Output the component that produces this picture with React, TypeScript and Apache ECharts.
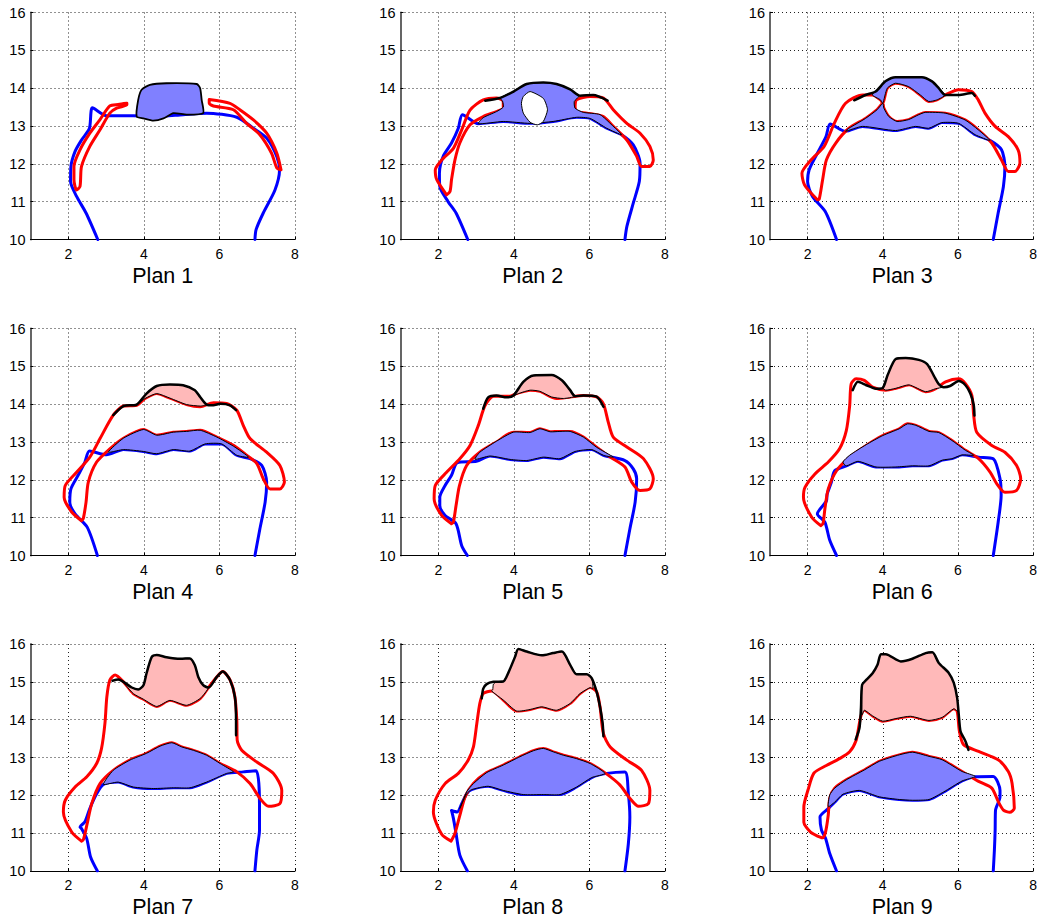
import React, { useEffect, useRef } from "react";
import * as echarts from "echarts";

type P = [number, number][];

// ---------- Plan 1 ----------
const blue1: P = [[2.78,10],[2.47,10.7],[2.22,11.14],[2.06,11.53],[2.07,11.93],[2.18,12.33],[2.35,12.63],[2.56,12.94],[2.64,13.48],[3.01,13.27],[3.72,13.27],[4.34,13.25],[5.04,13.3],[5.66,13.34],[6.46,13.23],[6.9,12.94],[7.25,12.68],[7.52,12.19],[7.59,11.83],[7.47,11.31],[7.16,10.7],[6.97,10.26],[6.94,10]];
const red1a: P = [[3.55,13.6],[3.32,13.57],[3.1,13.53],[2.84,13.17],[2.57,12.81],[2.31,12.37],[2.15,11.93],[2.15,11.58],[2.22,11.31],[2.31,11.4],[2.35,11.93],[2.57,12.46],[2.84,12.9],[3.1,13.34],[3.28,13.47],[3.55,13.56],[3.55,13.6]];
const red1b: P = [[5.73,13.7],[6.28,13.6],[6.54,13.43],[6.9,13.16],[7.25,12.81],[7.52,12.28],[7.63,11.84],[7.52,11.89],[7.38,12.28],[7.07,12.77],[6.72,13.07],[6.37,13.43],[5.84,13.53],[5.73,13.6],[5.73,13.7]];
const fillB1: P = [[3.81,13.25],[3.85,13.69],[3.94,13.96],[4.16,14.09],[4.6,14.13],[5.4,14.11],[5.49,14.0],[5.53,13.69],[5.57,13.34],[5.13,13.3],[4.78,13.34],[4.52,13.2],[4.25,13.14],[3.99,13.2]];

// ---------- Plan 2 ----------
const blue2: P = [[2.78,10],[2.47,10.7],[2.26,11.0],[2.04,11.4],[2.03,11.75],[2.13,12.2],[2.35,12.55],[2.53,12.94],[2.64,13.3],[3.06,13.06],[3.72,13.12],[4.43,13.07],[5.04,13.12],[5.66,13.23],[6.02,13.2],[6.46,12.94],[6.85,12.77],[7.16,12.5],[7.34,12.02],[7.32,11.53],[7.16,10.96],[6.99,10.34],[6.94,10]];
const red2a: P = [[2.22,11.18],[1.96,11.58],[1.92,11.84],[2.09,12.1],[2.4,12.41],[2.62,12.9],[2.84,13.42],[3.19,13.69],[3.54,13.74],[3.72,13.65],[3.72,13.47],[3.54,13.38],[3.19,13.25],[2.84,13.03],[2.57,12.55],[2.44,12.1],[2.35,11.58],[2.31,11.27],[2.22,11.18]];
const red2b: P = [[5.62,13.5],[5.66,13.69],[6.02,13.78],[6.37,13.74],[6.63,13.43],[6.99,13.07],[7.34,12.81],[7.6,12.46],[7.69,12.1],[7.6,11.93],[7.38,11.93],[7.25,12.2],[6.99,12.63],[6.63,12.99],[6.37,13.25],[5.93,13.34],[5.66,13.38],[5.62,13.5]];
const fillB2: P = [[3.06,13.06],[3.19,13.22],[3.54,13.38],[3.72,13.5],[3.7,13.66],[3.63,13.74],[3.99,13.91],[4.34,14.11],[4.78,14.15],[5.13,14.11],[5.49,13.97],[5.71,13.78],[5.6,13.65],[5.62,13.47],[5.84,13.36],[6.28,13.3],[6.6,13.02],[6.85,12.77],[6.46,12.94],[6.02,13.2],[5.66,13.23],[5.04,13.12],[4.43,13.07],[3.72,13.12]];
const hole2: P = [[4.25,13.78],[4.43,13.91],[4.78,13.73],[4.89,13.43],[4.78,13.12],[4.62,13.03],[4.43,13.1],[4.25,13.34],[4.2,13.6]];
const black2: P = [[3.24,13.67],[3.63,13.74],[3.99,13.91],[4.34,14.11],[4.78,14.15],[5.13,14.11],[5.49,13.97],[5.75,13.8],[6.1,13.82],[6.48,13.67]];

// ---------- Plan 3 ----------
const blue3: P = [[2.77,10],[2.47,10.74],[2.13,11.14],[2.0,11.53],[2.04,11.84],[2.26,12.28],[2.49,12.72],[2.6,13.05],[3.01,12.86],[3.46,12.99],[4.34,12.88],[4.87,12.99],[5.22,12.94],[5.57,13.09],[6.02,13.07],[6.46,12.77],[6.85,12.62],[7.16,12.37],[7.25,11.93],[7.21,11.4],[7.07,10.7],[6.94,10]];
const red3: P = [[2.26,11.05],[1.92,11.44],[1.85,11.75],[2.09,12.1],[2.44,12.46],[2.71,13.07],[3.01,13.6],[3.46,13.82],[3.72,13.82],[3.94,13.69],[4.0,13.6],[4.12,14.0],[4.34,14.13],[4.69,14.04],[5.0,13.82],[5.22,13.65],[5.44,13.69],[5.66,13.82],[6.02,13.96],[6.37,13.91],[6.54,13.69],[6.72,13.34],[6.99,12.99],[7.34,12.72],[7.6,12.37],[7.65,12.02],[7.52,11.8],[7.34,11.8],[7.16,12.1],[6.9,12.55],[6.54,12.9],[6.19,13.16],[5.66,13.34],[5.13,13.36],[4.96,13.3],[4.69,13.17],[4.38,13.12],[4.16,13.25],[4.03,13.47],[4.0,13.6],[3.85,13.43],[3.54,13.2],[3.1,12.94],[2.75,12.55],[2.5,12.1],[2.4,11.58],[2.31,11.07],[2.26,11.05]];
const fillB3a: P = [[3.72,13.82],[3.81,13.91],[4.07,14.18],[4.34,14.29],[5.04,14.29],[5.31,14.18],[5.49,14.0],[5.66,13.82],[5.44,13.69],[5.22,13.65],[5.0,13.82],[4.69,14.04],[4.34,14.13],[4.12,14.0],[4.0,13.6],[3.94,13.69]];
const fillB3b: P = [[3.01,12.86],[3.1,12.94],[3.54,13.2],[3.85,13.43],[4.0,13.6],[4.03,13.47],[4.16,13.25],[4.38,13.12],[4.69,13.17],[4.96,13.3],[5.13,13.36],[5.66,13.34],[6.19,13.16],[6.54,12.9],[6.85,12.62],[6.46,12.77],[6.02,13.07],[5.57,13.09],[5.22,12.94],[4.87,12.99],[4.34,12.88],[3.46,12.99]];
const black3: P = [[3.24,13.68],[3.54,13.82],[3.81,13.91],[4.07,14.18],[4.34,14.29],[5.04,14.29],[5.31,14.18],[5.49,14.0],[5.66,13.82],[6.02,13.82],[6.37,13.87],[6.45,13.8]];

// ---------- Plan 4 ----------
const blue4: P = [[2.77,10],[2.5,10.75],[2.18,11.1],[2.04,11.41],[2.07,11.76],[2.26,12.12],[2.44,12.47],[2.56,12.76],[3.01,12.66],[3.46,12.8],[3.99,12.75],[4.34,12.69],[4.78,12.8],[5.22,12.76],[5.62,12.95],[6.06,12.95],[6.46,12.65],[6.81,12.56],[7.12,12.38],[7.25,11.94],[7.21,11.41],[7.07,10.7],[6.94,10]];
const red4: P = [[2.35,10.92],[2.09,11.15],[1.89,11.54],[1.92,11.85],[2.22,12.2],[2.57,12.6],[2.84,13.09],[3.19,13.71],[3.46,13.95],[3.81,13.97],[4.03,14.15],[4.34,14.28],[4.69,14.16],[5.13,13.99],[5.49,13.93],[5.84,14.04],[6.19,14.02],[6.46,13.84],[6.63,13.44],[6.81,13.09],[7.25,12.73],[7.6,12.38],[7.72,11.94],[7.6,11.76],[7.34,11.76],[7.16,12.03],[6.99,12.43],[6.72,12.65],[6.37,12.91],[5.93,13.13],[5.49,13.31],[5.13,13.28],[4.78,13.26],[4.34,13.18],[3.99,13.33],[3.46,13.1],[3.1,12.82],[2.75,12.47],[2.53,11.94],[2.47,11.41],[2.4,10.99],[2.35,10.92]];
const fillB4: P = [[3.06,12.73],[3.46,13.1],[3.99,13.33],[4.34,13.18],[4.78,13.26],[5.13,13.28],[5.49,13.31],[5.93,13.13],[6.37,12.89],[6.77,12.6],[6.46,12.65],[6.06,12.95],[5.62,12.95],[5.22,12.76],[4.78,12.8],[4.34,12.69],[3.99,12.75],[3.46,12.8]];
const pink4: P = [[3.85,14.02],[4.07,14.28],[4.34,14.48],[4.69,14.52],[5.04,14.5],[5.35,14.37],[5.49,14.19],[5.65,13.99],[5.49,13.95],[5.13,13.99],[4.69,14.16],[4.34,14.28],[4.03,14.15]];
const black4: P = [[3.19,13.71],[3.46,13.95],[3.81,13.99],[4.07,14.28],[4.34,14.48],[4.69,14.52],[5.04,14.5],[5.35,14.37],[5.49,14.19],[5.66,13.99],[5.84,13.97],[6.02,14.01],[6.28,13.97],[6.44,13.84]];

// ---------- Plan 5 ----------
const blue5: P = [[2.77,10],[2.62,10.26],[2.47,10.84],[2.18,11.06],[2.04,11.32],[2.04,11.54],[2.18,11.85],[2.35,12.12],[2.5,12.45],[3.01,12.49],[3.37,12.63],[3.9,12.54],[4.34,12.51],[4.78,12.6],[5.22,12.56],[5.62,12.75],[6.06,12.8],[6.37,12.65],[6.94,12.51],[7.16,12.29],[7.25,12.03],[7.21,11.41],[7.07,10.7],[6.94,10]];
const red5: P = [[2.35,10.84],[2.09,11.06],[1.89,11.5],[1.92,11.85],[2.22,12.2],[2.57,12.56],[2.84,12.91],[3.06,13.44],[3.24,13.97],[3.46,14.21],[3.9,14.21],[4.07,14.28],[4.43,14.37],[4.69,14.34],[5.13,14.15],[5.49,14.19],[5.84,14.23],[6.19,14.19],[6.37,14.01],[6.5,13.52],[6.63,13.13],[6.99,12.87],[7.43,12.56],[7.69,12.03],[7.6,11.76],[7.34,11.72],[7.12,11.94],[6.94,12.34],[6.55,12.6],[6.19,12.86],[5.84,13.13],[5.49,13.28],[5.22,13.28],[4.96,13.27],[4.69,13.35],[4.43,13.25],[3.99,13.26],[3.54,13.0],[3.1,12.73],[2.75,12.38],[2.56,11.85],[2.47,11.32],[2.4,10.88],[2.35,10.84]];
const fillB5: P = [[2.97,12.54],[3.1,12.73],[3.54,13.02],[3.99,13.26],[4.43,13.25],[4.69,13.35],[4.96,13.27],[5.22,13.28],[5.49,13.28],[5.84,13.13],[6.19,12.86],[6.63,12.6],[6.37,12.65],[6.06,12.8],[5.62,12.75],[5.22,12.56],[4.78,12.6],[4.34,12.51],[3.9,12.54],[3.37,12.63]];
const pink5: P = [[3.99,14.23],[4.25,14.59],[4.52,14.76],[5.0,14.77],[5.27,14.63],[5.49,14.37],[5.62,14.21],[5.31,14.15],[5.0,14.19],[4.69,14.34],[4.43,14.37],[4.12,14.28]];
const black5: P = [[3.19,13.88],[3.32,14.18],[3.54,14.23],[3.81,14.18],[3.99,14.23],[4.25,14.59],[4.52,14.76],[5.0,14.77],[5.27,14.63],[5.49,14.37],[5.62,14.21],[5.84,14.23],[6.19,14.2],[6.37,13.93]];

// ---------- Plan 6 ----------
const blue6: P = [[2.77,10],[2.59,10.4],[2.46,10.88],[2.26,11.1],[2.5,11.44],[2.52,11.62],[2.63,11.93],[2.72,12.24],[3.03,12.37],[3.34,12.49],[3.82,12.34],[4.35,12.34],[4.79,12.37],[5.23,12.37],[5.58,12.52],[5.84,12.56],[6.11,12.66],[6.55,12.6],[6.94,12.56],[7.12,12.03],[7.15,11.59],[7.07,10.88],[6.94,10]];
const red6: P = [[2.35,10.79],[2.11,11.01],[1.89,11.54],[1.93,11.8],[2.19,12.15],[2.55,12.47],[2.85,12.82],[3.03,13.3],[3.12,13.96],[3.16,14.54],[3.29,14.67],[3.51,14.63],[3.73,14.45],[4.08,14.37],[4.35,14.42],[4.7,14.51],[5.14,14.33],[5.41,14.41],[5.67,14.59],[6.02,14.67],[6.2,14.54],[6.37,14.23],[6.42,13.7],[6.5,13.26],[6.9,12.91],[7.25,12.73],[7.56,12.38],[7.67,12.03],[7.56,11.72],[7.25,11.67],[7.03,11.9],[6.86,12.2],[6.55,12.56],[6.2,12.78],[5.84,13.04],[5.49,13.25],[5.23,13.28],[4.88,13.44],[4.66,13.48],[4.44,13.35],[4.0,13.17],[3.56,12.91],[3.12,12.6],[2.77,12.24],[2.55,11.76],[2.46,11.23],[2.41,10.84],[2.35,10.79]];
const fillB6: P = [[2.94,12.47],[3.12,12.65],[3.56,12.93],[4.0,13.17],[4.44,13.35],[4.66,13.48],[4.88,13.44],[5.23,13.28],[5.49,13.25],[5.84,13.04],[6.2,12.78],[6.42,12.65],[6.11,12.66],[5.84,12.56],[5.58,12.52],[5.23,12.37],[4.79,12.37],[4.35,12.34],[3.82,12.34],[3.34,12.49],[3.03,12.37]];
const pink6: P = [[4.0,14.43],[4.13,14.77],[4.35,15.2],[4.61,15.22],[4.96,15.17],[5.18,15.06],[5.36,14.75],[5.49,14.53],[5.58,14.45],[5.41,14.41],[5.14,14.33],[4.7,14.51],[4.35,14.42],[4.08,14.37]];
const black6: P = [[3.2,14.37],[3.34,14.59],[3.56,14.5],[3.82,14.41],[4.0,14.43],[4.13,14.77],[4.35,15.2],[4.61,15.22],[4.96,15.17],[5.18,15.06],[5.36,14.75],[5.49,14.53],[5.62,14.45],[5.79,14.48],[6.02,14.61],[6.2,14.5],[6.33,14.28],[6.42,13.98],[6.44,13.7]];

// ---------- Plan 7 ----------
const blue7: P = [[2.77,10],[2.59,10.37],[2.49,10.85],[2.35,11.12],[2.31,11.16],[2.44,11.3],[2.57,11.65],[2.75,12.04],[2.93,12.29],[3.32,12.35],[3.72,12.22],[4.25,12.18],[4.78,12.2],[5.22,12.2],[5.66,12.35],[6.19,12.58],[6.63,12.62],[6.97,12.65],[7.06,11.78],[7.06,11.07],[6.99,10.55],[6.94,10]];
const red7: P = [[2.35,10.79],[2.09,11.03],[1.87,11.56],[1.92,11.87],[2.18,12.22],[2.49,12.49],[2.75,12.84],[2.88,13.24],[2.97,13.9],[3.02,14.6],[3.1,15.05],[3.24,15.18],[3.46,15.0],[3.72,14.69],[3.99,14.54],[4.34,14.35],[4.69,14.51],[5.13,14.38],[5.49,14.56],[5.71,14.85],[5.93,15.13],[6.09,15.27],[6.28,15.05],[6.41,14.6],[6.46,13.99],[6.47,13.46],[6.59,13.19],[6.99,12.88],[7.43,12.58],[7.65,12.13],[7.6,11.78],[7.3,11.71],[7.08,11.91],[6.81,12.31],[6.46,12.62],[6.02,12.84],[5.66,13.06],[5.31,13.19],[5.0,13.28],[4.74,13.39],[4.43,13.3],[4.07,13.11],[3.63,12.93],[3.19,12.66],[2.84,12.31],[2.62,11.78],[2.5,11.25],[2.4,10.83],[2.35,10.79]];
const fillB7: P = [[2.93,12.29],[3.19,12.66],[3.63,12.93],[4.07,13.11],[4.43,13.3],[4.74,13.39],[5.0,13.28],[5.31,13.19],[5.66,13.06],[6.02,12.84],[6.37,12.62],[6.19,12.58],[5.66,12.35],[5.22,12.2],[4.78,12.2],[4.25,12.18],[3.72,12.22],[3.32,12.35]];
const pink7: P = [[3.46,15.0],[3.68,14.85],[3.85,14.8],[3.99,14.91],[4.07,15.22],[4.21,15.66],[4.34,15.71],[4.6,15.65],[4.96,15.61],[5.22,15.62],[5.35,15.44],[5.44,15.13],[5.57,14.91],[5.71,14.85],[5.49,14.56],[5.13,14.38],[4.69,14.51],[4.34,14.35],[3.99,14.54],[3.72,14.69]];
const black7: P = [[3.17,15.03],[3.32,15.06],[3.46,15.0],[3.68,14.85],[3.85,14.8],[3.99,14.91],[4.07,15.22],[4.21,15.66],[4.34,15.71],[4.6,15.65],[4.96,15.61],[5.22,15.62],[5.35,15.44],[5.44,15.13],[5.57,14.91],[5.71,14.85],[5.93,15.13],[6.09,15.27],[6.28,15.05],[6.41,14.6],[6.44,13.99],[6.44,13.59]];

// ---------- Plan 8 ----------
const blue8: P = [[2.77,10],[2.57,10.42],[2.47,10.99],[2.4,11.39],[2.35,11.6],[2.5,11.56],[2.62,11.78],[2.75,12.04],[2.88,12.15],[3.32,12.24],[3.72,12.13],[4.25,12.02],[4.78,12.02],[5.22,12.02],[5.66,12.22],[6.06,12.47],[6.46,12.58],[6.94,12.62],[7.03,12.04],[7.07,11.43],[7.03,10.72],[6.94,10]];
const red8: P = [[2.34,10.79],[2.09,10.97],[1.87,11.56],[1.92,11.87],[2.18,12.31],[2.53,12.58],[2.79,12.93],[2.93,13.28],[3.02,13.9],[3.1,14.43],[3.19,14.69],[3.41,14.76],[3.72,14.52],[4.07,14.23],[4.43,14.27],[4.74,14.34],[5.13,14.25],[5.49,14.43],[5.75,14.69],[6.02,14.85],[6.19,14.74],[6.28,14.34],[6.37,13.63],[6.55,13.28],[6.99,12.93],[7.38,12.66],[7.6,12.13],[7.56,11.78],[7.3,11.71],[7.08,11.91],[6.81,12.27],[6.46,12.56],[6.02,12.84],[5.66,12.97],[5.31,13.06],[5.04,13.15],[4.78,13.24],[4.52,13.18],[4.16,13.02],[3.72,12.8],[3.28,12.6],[2.93,12.31],[2.71,11.96],[2.56,11.43],[2.44,10.99],[2.34,10.79]];
const fillB8: P = [[2.57,11.65],[2.75,12.09],[2.93,12.31],[3.28,12.6],[3.72,12.8],[4.16,13.02],[4.52,13.18],[4.78,13.24],[5.04,13.15],[5.31,13.06],[5.66,12.97],[6.02,12.84],[6.41,12.58],[6.06,12.47],[5.66,12.22],[5.22,12.02],[4.78,12.02],[4.25,12.02],[3.72,12.13],[3.32,12.24],[2.88,12.15],[2.75,12.04]];
const pink8: P = [[3.44,14.79],[3.46,14.94],[3.54,15.0],[3.72,15.01],[3.85,15.23],[4.03,15.66],[4.12,15.87],[4.34,15.8],[4.74,15.7],[5.04,15.76],[5.27,15.8],[5.49,15.45],[5.66,15.2],[5.93,15.2],[6.06,15.1],[6.09,14.82],[6.02,14.85],[5.75,14.69],[5.49,14.43],[5.13,14.25],[4.74,14.34],[4.43,14.27],[4.07,14.23],[3.72,14.52],[3.41,14.76]];
const black8: P = [[3.15,14.56],[3.19,14.82],[3.28,14.94],[3.46,15.0],[3.72,15.01],[3.85,15.23],[4.03,15.66],[4.12,15.87],[4.34,15.8],[4.74,15.7],[5.04,15.76],[5.27,15.8],[5.49,15.45],[5.66,15.2],[5.93,15.2],[6.06,15.1],[6.19,14.74],[6.28,14.34],[6.35,13.9],[6.37,13.56]];

// ---------- Plan 9 ----------
const blue9: P = [[2.77,10],[2.59,10.46],[2.48,10.86],[2.37,11.08],[2.33,11.43],[2.55,11.65],[2.72,11.82],[2.94,12.03],[3.38,12.13],[3.91,11.96],[4.44,11.89],[4.79,11.87],[5.23,11.89],[5.62,12.09],[6.11,12.38],[6.46,12.49],[6.94,12.5],[7.12,12.13],[7.12,11.96],[7.0,11.61],[6.99,11.08],[6.97,10.55],[6.94,10]];
const red9: P = [[2.37,10.88],[2.08,11.03],[1.9,11.29],[1.9,11.69],[2.02,12.17],[2.17,12.59],[2.5,12.79],[2.85,12.97],[3.12,13.15],[3.29,13.45],[3.36,13.8],[3.42,14.1],[3.51,14.25],[3.73,14.1],[4.0,13.96],[4.35,14.03],[4.74,14.09],[5.23,13.98],[5.58,14.06],[5.89,14.29],[5.98,14.22],[6.04,13.69],[6.15,13.34],[6.55,13.16],[7.07,12.94],[7.34,12.63],[7.44,12.32],[7.5,11.66],[7.38,11.55],[7.21,11.61],[7.07,11.84],[6.9,12.19],[6.55,12.37],[6.11,12.63],[5.58,12.94],[5.23,13.03],[4.79,13.14],[4.44,13.07],[3.91,12.9],[3.51,12.67],[3.03,12.41],[2.72,12.19],[2.59,11.93],[2.55,11.48],[2.48,11.04],[2.41,10.88],[2.37,10.88]];
const fillB9: P = [[2.55,11.7],[2.59,12.01],[2.72,12.19],[3.03,12.41],[3.51,12.67],[3.91,12.9],[4.44,13.07],[4.79,13.14],[5.23,13.03],[5.58,12.94],[6.11,12.63],[6.46,12.5],[6.11,12.38],[5.62,12.09],[5.23,11.89],[4.79,11.87],[4.44,11.89],[3.91,11.96],[3.38,12.13],[2.94,12.03],[2.72,11.82]];
const pink9: P = [[3.45,14.13],[3.45,14.92],[3.56,15.05],[3.73,15.23],[3.86,15.45],[3.95,15.73],[4.08,15.73],[4.48,15.54],[4.79,15.61],[5.14,15.76],[5.32,15.78],[5.49,15.5],[5.76,15.23],[5.89,14.97],[5.98,14.57],[6.0,14.22],[5.89,14.29],[5.58,14.06],[5.23,13.98],[4.74,14.09],[4.35,14.03],[4.0,13.96],[3.73,14.1],[3.51,14.25]];
const black9: P = [[3.28,13.48],[3.38,13.78],[3.42,14.3],[3.45,14.92],[3.56,15.05],[3.73,15.23],[3.86,15.45],[3.95,15.73],[4.08,15.73],[4.48,15.54],[4.79,15.61],[5.14,15.76],[5.32,15.78],[5.49,15.5],[5.76,15.23],[5.89,14.97],[5.98,14.57],[6.03,14.04],[6.07,13.69],[6.2,13.43],[6.28,13.2]];

// ---------- axes / titles ----------
const planTitles = ["Plan 1", "Plan 2", "Plan 3", "Plan 4", "Plan 5", "Plan 6", "Plan 7", "Plan 8", "Plan 9"];
const xTickValues = [2, 4, 6, 8];
const xRange = [1, 8];
const yRange = [10, 16];

interface Plan { blue: P; reds: P[]; blueFills: P[]; pinkFills: P[]; holes: P[]; black: P | null; }
const plans: Plan[] = [
  { blue: blue1, reds: [red1a, red1b], blueFills: [fillB1], pinkFills: [], holes: [], black: null },
  { blue: blue2, reds: [red2a, red2b], blueFills: [fillB2], pinkFills: [], holes: [hole2], black: black2 },
  { blue: blue3, reds: [red3], blueFills: [fillB3a, fillB3b], pinkFills: [], holes: [], black: black3 },
  { blue: blue4, reds: [red4], blueFills: [fillB4], pinkFills: [pink4], holes: [], black: black4 },
  { blue: blue5, reds: [red5], blueFills: [fillB5], pinkFills: [pink5], holes: [], black: black5 },
  { blue: blue6, reds: [red6], blueFills: [fillB6], pinkFills: [pink6], holes: [], black: black6 },
  { blue: blue7, reds: [red7], blueFills: [fillB7], pinkFills: [pink7], holes: [], black: black7 },
  { blue: blue8, reds: [red8], blueFills: [fillB8], pinkFills: [pink8], holes: [], black: black8 },
  { blue: blue9, reds: [red9], blueFills: [fillB9], pinkFills: [pink9], holes: [], black: black9 },
];

const COL_LEFT = [30.5, 400.5, 770];
const ROW_TOP = [12.5, 328.5, 644];
const GW = 264.5;
const GH = 227;
const FONT = "'Liberation Sans', Arial, Helvetica, sans-serif";

function lineSeries(i: number, pts: P, color: string, width: number, z: number) {
  return {
    type: "line", xAxisIndex: i, yAxisIndex: i, data: pts, symbol: "none", showSymbol: false,
    smooth: 0.25, silent: true, z, lineStyle: { color, width, cap: "round", join: "round" },
  };
}

function polySeries(i: number, pts: P, fill: string, lw: number, z: number) {
  return {
    type: "custom", xAxisIndex: i, yAxisIndex: i, z, silent: true,
    data: [pts[0]],
    renderItem: (_params: any, api: any) => ({
      type: "polygon",
      shape: { points: pts.map((p) => api.coord(p)), smooth: 0.2 },
      style: { fill, stroke: "#000", lineWidth: lw },
    }),
  };
}

export default function App() {
  const ref = useRef<HTMLDivElement>(null);
  useEffect(() => {
    if (!ref.current) return;
    const chart = echarts.init(ref.current, undefined, { renderer: "svg" });
    const grid: any[] = [];
    const xAxis: any[] = [];
    const yAxis: any[] = [];
    const series: any[] = [];
    const graphic: any[] = [];
    plans.forEach((pl, i) => {
      const c = i % 3;
      const r = Math.floor(i / 3);
      grid.push({ left: COL_LEFT[c], top: ROW_TOP[r], width: GW, height: GH, containLabel: false });
      xAxis.push({
        gridIndex: i, type: "value", min: xRange[0], max: xRange[1],
        axisLine: { show: true, onZero: false, lineStyle: { color: "#000", width: 1 } },
        axisTick: { show: true, inside: true, length: 3, customValues: xTickValues, lineStyle: { color: "#000" } },
        axisLabel: {
          customValues: xTickValues, color: "#000", fontSize: 14, margin: 7, fontFamily: FONT,
          formatter: (v: number) => (v % 2 === 0 ? String(v) : ""),
        },
        splitLine: { show: true, lineStyle: { color: "#222", width: 1, type: [1, 3] } },
      });
      yAxis.push({
        gridIndex: i, type: "value", min: yRange[0], max: yRange[1], interval: 1,
        axisLine: { show: true, onZero: false, lineStyle: { color: "#555", width: 1.8 } },
        axisTick: { show: true, inside: true, length: 3, lineStyle: { color: "#000" } },
        axisLabel: { color: "#000", fontSize: 14.5, margin: 5, fontFamily: FONT },
        splitLine: { show: true, lineStyle: { color: "#222", width: 1, type: [1, 3] } },
      });
      series.push(lineSeries(i, pl.blue, "#0000ff", 3, 2));
      pl.reds.forEach((rd) => series.push(lineSeries(i, rd, "#ff0000", 3, 2)));
      pl.blueFills.forEach((f) => series.push(polySeries(i, f, "#8080ff", i === 0 ? 1.8 : 1, 3)));
      pl.pinkFills.forEach((f) => series.push(polySeries(i, f, "#ffb9b9", 1, 3)));
      pl.holes.forEach((f) => series.push(polySeries(i, f, "#ffffff", 1, 4)));
      if (pl.black) series.push(lineSeries(i, pl.black, "#000000", 2.5, 5));
      graphic.push({
        type: "text",
        x: COL_LEFT[c] + GW / 2,
        y: ROW_TOP[r] + GH + 36,
        style: { text: planTitles[i], fill: "#000", font: `21.5px ${FONT}`, textAlign: "center", textVerticalAlign: "middle" },
      });
    });
    chart.setOption({ animation: false, grid, xAxis, yAxis, series, graphic });
    return () => chart.dispose();
  }, []);
  return <div ref={ref} style={{ position: "absolute", left: 0, top: 0, width: 1040, height: 920, background: "#fff" }} />;
}
